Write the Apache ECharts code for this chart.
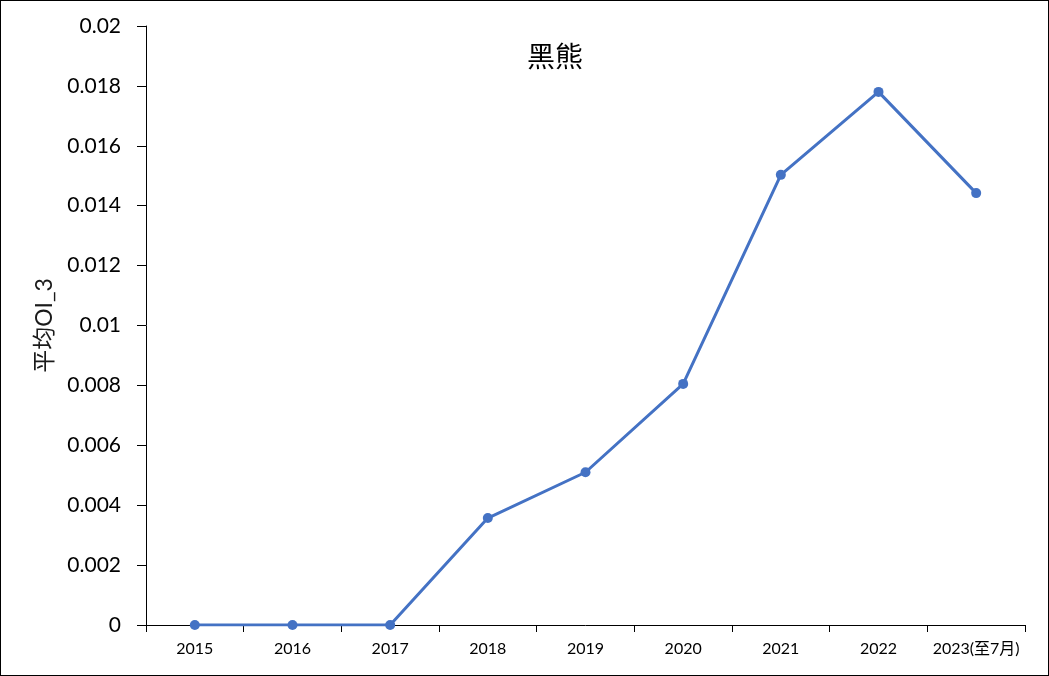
<!DOCTYPE html>
<html>
<head>
<meta charset="utf-8">
<script src="https://cdn.jsdelivr.net/npm/echarts@6/dist/echarts.min.js"></script>
<style>
  html, body { margin: 0; padding: 0; background: #fff; }
  #chart { width: 1047px; height: 674px; border: 1px solid #000; }
</style>
</head>
<body>
<div id="chart"></div>
<script>
// years on the x axis
const years = ['2015', '2016', '2017', '2018', '2019', '2020', '2021', '2022', '2023(至7月)'];
// average OI_3 per year
const avgOI3 = [0, 0, 0, 0.00357, 0.0051, 0.00805, 0.01503, 0.0178, 0.01442];

const font = 'Lato, "Noto Sans CJK SC", sans-serif';

const chart = echarts.init(document.getElementById('chart'));
chart.setOption({
  animation: false,
  title: {
    text: '黑熊',
    left: 521,
    top: 38,
    textStyle: { fontFamily: font, fontSize: 28, fontWeight: 'normal', color: '#000' }
  },
  grid: { left: 145, right: 23, top: 25, bottom: 50 },
  xAxis: {
    type: 'category',
    data: years,
    axisLine: { lineStyle: { color: '#000', width: 1 } },
    axisTick: { show: true, length: 7, lineStyle: { color: '#000' } },
    axisLabel: { fontFamily: font, fontSize: 16, color: '#000', margin: 16, interval: 0 }
  },
  yAxis: {
    type: 'value',
    min: 0,
    max: 0.02,
    interval: 0.002,
    name: '平均OI_3',
    nameLocation: 'middle',
    nameRotate: 90,
    nameGap: 89,
    nameTextStyle: { fontFamily: font, fontSize: 23, color: '#1a1a1a' },
    axisLine: { show: true, lineStyle: { color: '#000', width: 1 } },
    axisTick: { show: true, length: 9, lineStyle: { color: '#000' } },
    splitLine: { show: false },
    axisLabel: {
      fontFamily: font, fontSize: 21, color: '#000', margin: 25,
      formatter: v => String(+v.toFixed(3))
    }
  },
  series: [{
    type: 'line',
    data: avgOI3,
    symbol: 'circle',
    symbolSize: 10,
    lineStyle: { color: '#4472C4', width: 3 },
    itemStyle: { color: '#4472C4' }
  }]
});
</script>
</body>
</html>
